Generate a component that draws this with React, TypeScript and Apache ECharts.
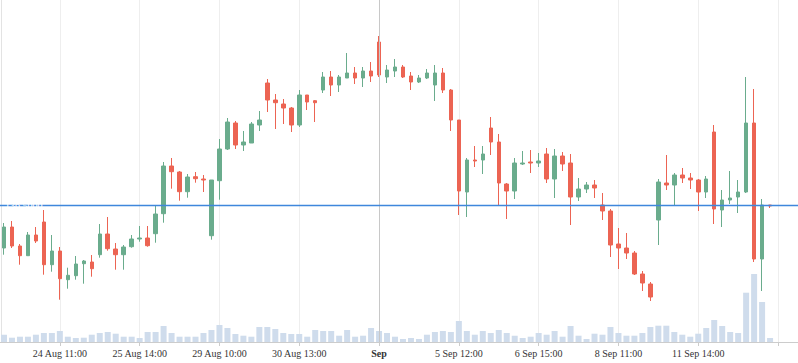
import React, { useEffect, useRef } from 'react';
import * as echarts from 'echarts';

const UP_COLOR = '#6aac8d';
const DOWN_COLOR = '#ec6453';
const VOLUME_COLOR = '#cfdcec';
const PRICE_LINE_COLOR = '#3f87dc';

// [open, close, low, high]
const candles: number[][] = [
  [94, 115, 87.3, 119],
  [115, 96, 94, 121],
  [96, 86.3, 77.3, 98],
  [86.3, 107, 86.3, 110],
  [107, 101, 99, 115],
  [120, 77.3, 67.3, 132],
  [77.3, 91, 70.3, 107],
  [91, 63.3, 42.3, 95],
  [62.3, 66.7, 53.3, 74.3],
  [66.3, 78, 62.3, 86],
  [78.3, 81, 58.3, 82],
  [80, 73.3, 65.3, 87],
  [87.3, 108, 84.3, 118],
  [108, 93.3, 91.3, 125],
  [93, 87.3, 72.3, 99],
  [87.3, 95, 72.3, 97],
  [95.3, 103, 94.3, 107],
  [103, 104, 100.3, 116],
  [104, 96.3, 95.3, 116],
  [108.3, 128, 99.3, 136],
  [128.3, 176, 119.3, 180],
  [176, 170.3, 153.3, 184],
  [170, 150.3, 141.3, 171],
  [150.3, 165, 144.3, 168],
  [165.3, 163.3, 159.3, 170],
  [163, 162, 150, 167],
  [106.3, 162, 102.3, 162],
  [161.3, 193, 142.3, 203],
  [193, 220, 192, 224],
  [219, 197, 193, 221],
  [197, 200, 191, 211],
  [199, 218, 199, 220],
  [217, 222, 211, 231],
  [259, 242, 230, 263],
  [242, 239.3, 213, 248],
  [238, 234, 218, 243],
  [234, 217, 210, 235],
  [217, 247, 215, 252],
  [247, 240, 232, 247],
  [241.3, 239.3, 220, 242],
  [252, 265, 249, 270],
  [265, 257, 246, 271],
  [257, 265, 250, 267],
  [264, 269, 264, 289],
  [269, 264, 258, 275],
  [264, 271, 255, 275],
  [271, 266, 260, 280],
  [300, 267, 265, 306],
  [265, 272, 259, 277],
  [271, 275, 265, 283],
  [275, 265, 264, 277],
  [266, 260, 252, 270],
  [260, 264, 259, 267],
  [264, 269, 263, 273],
  [257, 269, 241, 277],
  [269, 252, 249, 274],
  [252, 222, 211, 253],
  [222, 151, 127, 222],
  [150, 182, 125, 184],
  [182, 181, 175, 196],
  [182, 188, 168, 196],
  [214, 200, 187, 225],
  [200, 159, 137, 208],
  [158, 151, 123, 159],
  [151, 179, 143, 184],
  [178, 179, 177, 191],
  [180, 179, 169, 192],
  [179, 181, 175, 189],
  [188, 163, 159, 194],
  [163, 186, 144, 193],
  [186, 178, 171, 190],
  [179, 145, 117, 188],
  [145, 153, 141, 164],
  [153, 157, 149, 160],
  [157, 154, 144, 162],
  [137, 131, 122, 149],
  [131, 97, 85, 133],
  [98, 94, 73, 114],
  [94, 89, 83, 109],
  [89, 68, 67, 91],
  [68, 59, 51, 71],
  [58, 45, 41, 60],
  [122, 160, 97, 163],
  [159, 157, 152, 187],
  [157, 167, 137, 169],
  [167, 164, 159, 174],
  [164, 162, 153, 169],
  [162, 150, 131, 163],
  [150, 163, 144, 166],
  [210, 133, 118, 217],
  [132, 142, 115, 152],
  [142, 144, 138, 171],
  [145, 150, 129, 162],
  [150, 219, 149, 265],
  [219, 83, 80, 253],
  [83, 137, 51, 143],
  [137, 136, 134, 137],
];

const volumes: number[] = [
  730, 430, 530, 530, 730, 900, 900, 1100, 530, 400,
  430, 730, 900, 1000, 830, 530, 530, 400, 1000, 1000,
  1600, 900, 530, 530, 530, 900, 1200, 1700, 1400, 800,
  630, 530, 1500, 1500, 1300, 900, 800, 800, 530, 1200,
  1100, 1100, 630, 1200, 530, 630, 1400, 1100, 900, 530,
  300, 400, 300, 730, 1000, 1100, 1000, 2100, 1100, 730,
  1100, 900, 1200, 900, 630, 400, 530, 900, 730, 1100,
  530, 1600, 630, 300, 830, 730, 1500, 900, 630, 630,
  900, 1500, 1630, 1630, 1000, 730, 530, 830, 1400, 2200,
  1600, 1000, 900, 4930, 6800, 4000, 400,
];

const tickIndex: number[] = [7, 17, 27, 37, 47, 57, 67, 77, 87, 97];
const tickLabels: string[] = [
  '24 Aug 11:00',
  '25 Aug 14:00',
  '29 Aug 10:00',
  '30 Aug 13:00',
  'Sep',
  '5 Sep 12:00',
  '6 Sep 15:00',
  '8 Sep 11:00',
  '11 Sep 14:00',
  '',
];
const boldLabels: string[] = ['Sep'];
const lastPrice = 136.5;
const monthStartIndex = 47;
const slotCount = 100;
const categories: string[] = Array.from({ length: slotCount }, (_, i) => 'slot' + i);

const FONT = 'Liberation Serif';

export default function App() {
  const ref = useRef<HTMLDivElement>(null);
  useEffect(() => {
    if (!ref.current) return;
    const chart = echarts.init(ref.current, undefined, { renderer: 'svg' });
    const isTick = (index: number) => tickIndex.indexOf(index) >= 0;
    chart.setOption({
      animation: false,
      grid: { left: 0, right: 0, top: 0, bottom: 21, containLabel: false },
      xAxis: [
        {
          type: 'category',
          data: categories,
          boundaryGap: true,
          axisLine: { show: true, lineStyle: { color: '#cccccc', width: 1 } },
          axisTick: {
            show: true,
            alignWithLabel: true,
            interval: isTick,
            length: 4,
            lineStyle: { color: '#cccccc' },
          },
          axisLabel: {
            interval: isTick,
            margin: 6,
            fontFamily: FONT,
            fontSize: 10,
            color: '#333333',
            formatter: (_v: string, index: number) => {
              const k = tickIndex.indexOf(index);
              if (k < 0) return '';
              const t = tickLabels[k];
              return boldLabels.indexOf(t) >= 0 ? '{b|' + t + '}' : t;
            },
            rich: {
              b: { fontWeight: 'bold', fontFamily: FONT, fontSize: 10, color: '#333333' },
            },
          },
          splitLine: {
            show: true,
            interval: isTick,
            alignWithLabel: true,
            lineStyle: { color: '#eeeeee', width: 1 },
          },
        },
        {
          type: 'value',
          min: 0,
          max: 1,
          show: false,
          splitLine: { show: false },
        },
      ],
      yAxis: [
        {
          type: 'value',
          min: 0,
          max: 342,
          position: 'right',
          offset: -1,
          axisLine: { show: true, lineStyle: { color: '#e3e3e3' } },
          axisTick: { show: false },
          axisLabel: { show: false },
          splitLine: { show: false },
        },
        {
          type: 'value',
          min: 0,
          max: 34200,
          show: false,
          splitLine: { show: false },
        },
      ],
      series: [
        {
          type: 'bar',
          yAxisIndex: 1,
          data: volumes,
          barWidth: 6,
          itemStyle: { color: VOLUME_COLOR },
          silent: true,
          z: 1,
        },
        {
          type: 'candlestick',
          yAxisIndex: 0,
          data: candles,
          barWidth: 4,
          itemStyle: {
            color: UP_COLOR,
            color0: DOWN_COLOR,
            borderColor: UP_COLOR,
            borderColor0: DOWN_COLOR,
            borderWidth: 1,
          },
          z: 3,
          markLine: {
            silent: true,
            symbol: 'none',
            animation: false,
            lineStyle: { color: '#c8c8c8', width: 1, type: 'solid' },
            label: { show: false },
            data: [{ xAxis: monthStartIndex }],
          },
        },
        {
          type: 'line',
          xAxisIndex: 1,
          yAxisIndex: 0,
          z: 5,
          silent: true,
          showSymbol: true,
          symbol: 'circle',
          symbolSize: 0,
          itemStyle: { color: PRICE_LINE_COLOR },
          lineStyle: { color: PRICE_LINE_COLOR, width: 1.5, type: 'solid', opacity: 1 },
          data: [
            {
              value: [0, lastPrice],
              label: {
                show: true,
                position: 'right',
                distance: 5,
                formatter: () => lastPrice.toFixed(4),
                color: '#ffffff',
                fontSize: 10,
                fontFamily: FONT,
              },
            },
            { value: [1, lastPrice] },
          ],
        },
      ],
    });
    return () => chart.dispose();
  }, []);
  return (
    <div
      ref={ref}
      style={{ position: 'fixed', left: 0, top: 0, width: 798, height: 363, background: '#ffffff' }}
    />
  );
}
